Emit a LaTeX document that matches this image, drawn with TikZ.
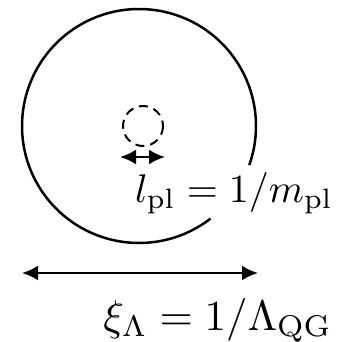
\documentclass[tikz,border=0pt]{standalone}
\usepackage{amsmath}
\usetikzlibrary{arrows.meta}

\begin{document}
\begin{tikzpicture}[x=1pt, y=-1pt, line width=2.5pt,
    every node/.style={font=\normalsize, scale=4, inner sep=0pt},
    dimarrow/.style={{Latex[length=16pt,width=15pt]}-{Latex[length=16pt,width=15pt]}}]
  \useasboundingbox (0,0) rectangle (338,342);
  \coordinate (c) at (139,126); \coordinate (p) at (143,126);
  \draw (c) ++(52.3:117) arc[start angle=52.3, end angle=379.5, radius=117];
  \draw[line width=2pt, dash pattern=on 9pt off 6pt] (p) circle (20);
  \coordinate (pl) at (120,157); \coordinate (pr) at (165,157);
  \draw[dimarrow] (pl) -- (pr);
  \node[anchor=base west] (lpl) at (130,202) {$l_{\mathrm{pl}} = 1/m_{\mathrm{pl}}$};
  \coordinate (ql) at (22,273); \coordinate (qr) at (258,273);
  \draw[dimarrow] (ql) -- (qr);
  \node[anchor=base west, scale=1.07] (xi) at (98,330) {$\xi_\Lambda = 1/\Lambda_{\mathrm{QG}}$};
\end{tikzpicture}
\end{document}
